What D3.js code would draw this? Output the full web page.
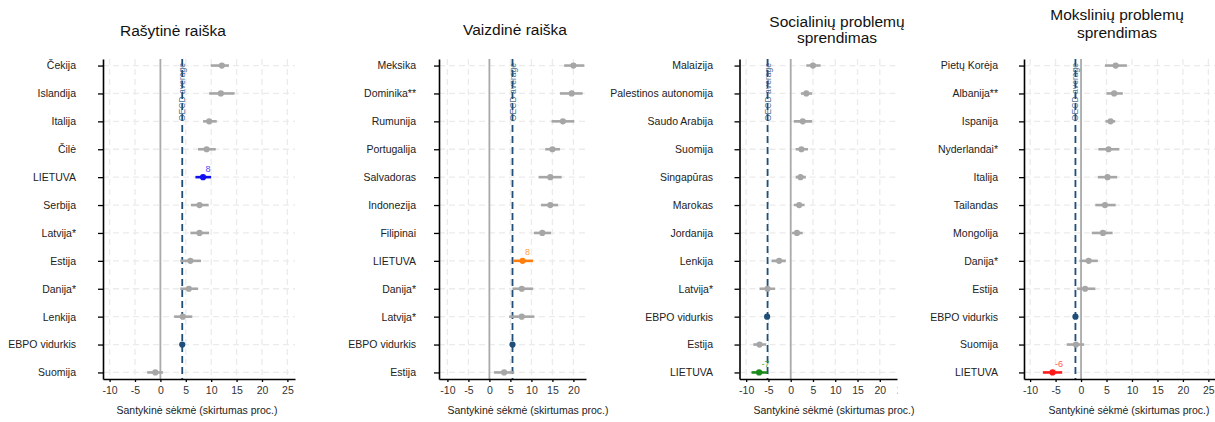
<!DOCTYPE html>
<html><head><meta charset="utf-8">
<script src="https://cdn.jsdelivr.net/npm/d3@7"></script>
<style>
body{margin:0;background:#fff}
svg{display:block}
text{font-family:"Liberation Sans",Arial,Helvetica,sans-serif}
</style>
</head><body>
<svg id="c" width="1215" height="422"></svg>
<script>
// ---------- DATA ----------
const writingTitle = ["Rašytinė raiška"];
const writingCountries = ["Čekija","Islandija","Italija","Čilė","LIETUVA","Serbija","Latvija*","Estija","Danija*","Lenkija","EBPO vidurkis","Suomija"];
const writingEst  = [12.1, 11.9, 9.6, 9.1, 8.4, 7.7, 7.7, 5.9, 5.6, 4.4, 4.3, -1.0];
const writingLow  = [ 9.9,  9.6, 8.4, 7.4, 6.9, 6.0, 5.9, 3.9, 3.9, 2.7, 4.1, -2.6];
const writingHigh = [13.5, 14.6,11.1,10.9,10.0, 9.5, 9.6, 8.0, 7.4, 6.3, 4.5,  0.5];
const writingOecd = 4.3;
const writingTicks = [-10,-5,0,5,10,15,20,25];

const visualTitle = ["Vaizdinė raiška"];
const visualCountries = ["Meksika","Dominika**","Rumunija","Portugalija","Salvadoras","Indonezija","Filipinai","LIETUVA","Danija*","Latvija*","EBPO vidurkis","Estija"];
const visualEst  = [20.0, 19.6, 17.5, 15.0, 14.5, 14.5, 12.6, 7.9, 7.7, 7.7, 5.5, 3.5];
const visualLow  = [17.8, 16.8, 14.8, 13.3, 11.7, 12.3, 10.6, 5.6, 5.5, 4.7, 5.3, 1.1];
const visualHigh = [22.6, 22.2, 20.2, 16.8, 17.2, 16.4, 14.7,10.4,10.4,10.7, 5.7, 5.9];
const visualOecd = 5.5;
const visualTicks = [-10,-5,0,5,10,15,20];

const socialTitle = ["Socialinių problemų","sprendimas"];
const socialCountries = ["Malaizija","Palestinos autonomija","Saudo Arabija","Suomija","Singapūras","Marokas","Jordanija","Lenkija","Latvija*","EBPO vidurkis","Estija","LIETUVA"];
const socialEst  = [5.0, 3.5, 2.7, 2.4, 2.2, 1.9, 1.4, -2.6, -5.2, -5.3, -7.0, -7.1];
const socialLow  = [3.5, 2.3, 0.7, 1.1, 1.1, 0.7, 0.3, -4.3, -7.0, -5.5, -8.4, -8.8];
const socialHigh = [6.7, 4.8, 4.8, 3.9, 3.4, 3.1, 2.7, -1.1, -3.5, -5.1, -5.5, -5.2];
const socialOecd = -5.2;
const socialTicks = [-10,-5,0,5,10,15,20,25];

const scienceTitle = ["Mokslinių problemų","sprendimas"];
const scienceCountries = ["Pietų Korėja","Albanija**","Ispanija","Nyderlandai*","Italija","Tailandas","Mongolija","Danija*","Estija","EBPO vidurkis","Suomija","LIETUVA"];
const scienceEst  = [6.8, 6.5, 5.8, 5.4, 5.2, 4.7, 4.3, 1.5, 0.8, -1.1, -1.0, -5.6];
const scienceLow  = [4.7, 5.0, 4.8, 3.4, 3.3, 2.8, 2.1, -0.3, -0.8, -1.3, -2.8, -7.5];
const scienceHigh = [9.0, 8.2, 6.7, 7.5, 7.1, 6.8, 6.2, 3.3, 2.8, -0.9, 0.6, -3.7];
const scienceOecd = -1.1;
const scienceTicks = [-10,-5,0,5,10,15,20,25];

const highlightName = "LIETUVA";
const averageName = "EBPO vidurkis";
const oecdLabel = "OECD average";
const xAxisTitle = "Santykinė sėkmė (skirtumas proc.)";

// ---------- LAYOUT / STYLE ----------
const panels = [
  {title: writingTitle, cats: writingCountries, est: writingEst, lo: writingLow, hi: writingHigh, oecd: writingOecd, ticks: writingTicks,
   domain: [-11.3, 26.5], left: 103, right: 295, labelEnd: 76, titleX: 173, titleY: [36], axisTitleX: 197,
   hl: "#1010ee", hlText: "#4a4aff", clip: null},
  {title: visualTitle, cats: visualCountries, est: visualEst, lo: visualLow, hi: visualHigh, oecd: visualOecd, ticks: visualTicks,
   domain: [-12.0, 23.0], left: 439, right: 586, labelEnd: 416, titleX: 515, titleY: [35], axisTitleX: 528,
   hl: "#ff7f0e", hlText: "#ffa040", clip: null},
  {title: socialTitle, cats: socialCountries, est: socialEst, lo: socialLow, hi: socialHigh, oecd: socialOecd, ticks: socialTicks,
   domain: [-11.5, 26.0], left: 739.5, right: 906.5, labelEnd: 713, titleX: 837, titleY: [26.5, 43], axisTitleX: 834,
   hl: "#1a8a1a", hlText: "#33aa33", clip: [600, 897.5]},
  {title: scienceTitle, cats: scienceCountries, est: scienceEst, lo: scienceLow, hi: scienceHigh, oecd: scienceOecd, ticks: scienceTicks,
   domain: [-11.2, 26.3], left: 1024, right: 1215, labelEnd: 998, titleX: 1117, titleY: [20, 37.5], axisTitleX: 1129,
   hl: "#ff1a1a", hlText: "#ff5555", clip: null}
];

const plotTop = 59, plotBottom = 379;
const grey = "#a6a6a6";
const oecdColor = "#1f4e79";
const fmt = d => String(d);

const svg = d3.select("#c");
const defs = svg.append("defs");

panels.forEach((p, pi) => {
  const outer = svg.append("g");
  const g = outer.append("g");
  if (p.clip) {
    defs.append("clipPath").attr("id", "clip" + pi).append("rect")
      .attr("x", p.clip[0]).attr("y", 0).attr("width", p.clip[1] - p.clip[0]).attr("height", 400);
    g.attr("clip-path", `url(#clip${pi})`);
  }
  const x = d3.scaleLinear().domain(p.domain).range([p.left, p.right]);
  const y = d3.scalePoint().domain(p.cats).range([plotTop, plotBottom]).padding(0.235);

  // title
  const t = outer.append("text").attr("x", p.titleX).attr("text-anchor", "middle")
    .attr("font-size", 15.5).attr("fill", "#111");
  p.title.forEach((line, i) => {
    t.append("tspan").attr("x", p.titleX).attr("y", p.titleY[i]).text(line);
  });

  // grid
  const grid = g.append("g");
  grid.selectAll("line.v").data(p.ticks).join("line").attr("class", "v")
    .attr("x1", d => x(d)).attr("x2", d => x(d)).attr("y1", plotTop).attr("y2", plotBottom)
    .attr("stroke", "#ebebeb").attr("stroke-width", 1.3).attr("stroke-dasharray", "6,4");
  grid.selectAll("line.h").data(p.cats).join("line").attr("class", "h")
    .attr("x1", p.left).attr("x2", p.right).attr("y1", d => y(d)).attr("y2", d => y(d))
    .attr("stroke", "#ebebeb").attr("stroke-width", 1.3).attr("stroke-dasharray", "6,4");

  // zero line
  g.append("line").attr("x1", x(0)).attr("x2", x(0)).attr("y1", plotTop).attr("y2", plotBottom)
    .attr("stroke", "#aaaaaa").attr("stroke-width", 1.8);

  // OECD average line
  g.append("line").attr("x1", x(p.oecd)).attr("x2", x(p.oecd)).attr("y1", plotTop).attr("y2", plotBottom)
    .attr("stroke", oecdColor).attr("stroke-width", 1.8).attr("stroke-dasharray", "7,4");

  const rows = p.cats.map((c, i) => ({c, est: p.est[i], lo: p.lo[i], hi: p.hi[i]}));
  const colorOf = d => d.c === highlightName ? p.hl : (d.c === averageName ? oecdColor : grey);

  // error bars
  g.selectAll("line.err").data(rows.filter(d => d.c !== averageName)).join("line").attr("class", "err")
    .attr("x1", d => x(d.lo)).attr("x2", d => x(d.hi)).attr("y1", d => y(d.c)).attr("y2", d => y(d.c))
    .attr("stroke", colorOf).attr("stroke-width", 2.6);
  // points
  g.selectAll("circle.pt").data(rows).join("circle").attr("class", "pt")
    .attr("cx", d => x(d.est)).attr("cy", d => y(d.c)).attr("r", 3.1)
    .attr("fill", colorOf);
  // value label
  g.selectAll("text.val").data(rows.filter(d => d.c === highlightName)).join("text").attr("class", "val")
    .attr("x", d => x(d.est) + 2.5).attr("y", d => y(d.c) - 5.5)
    .attr("font-size", 9).attr("fill", p.hlText)
    .text(d => fmt(Math.round(d.est)));

  // OECD average text
  const ty = 92;
  g.append("text").attr("transform", `translate(${x(p.oecd)},${ty}) rotate(-90)`)
    .attr("text-anchor", "middle").attr("dominant-baseline", "central")
    .attr("font-size", 8.6).attr("fill", oecdColor).attr("fill-opacity", 0.85)
    .text(oecdLabel);

  // x axis
  const xa = g.append("g").attr("transform", `translate(0,${plotBottom})`)
    .call(d3.axisBottom(x).tickValues(p.ticks).tickSize(3).tickSizeOuter(0).tickPadding(5).tickFormat(fmt));
  xa.select(".domain").attr("stroke", "#000").attr("stroke-width", 1.6);
  xa.selectAll(".tick line").attr("stroke", "#000").attr("stroke-width", 1.3);
  xa.selectAll(".tick text").attr("font-size", 10.5).attr("fill", "#333");

  // y axis
  const pad = p.left - p.labelEnd - 5;
  const ya = outer.append("g").attr("transform", `translate(${p.left},0)`)
    .call(d3.axisLeft(y).tickSize(5).tickSizeOuter(0).tickPadding(pad));
  ya.select(".domain").attr("stroke", "#000").attr("stroke-width", 1.6);
  ya.selectAll(".tick line").attr("stroke", "#000").attr("stroke-width", 1.3);
  ya.selectAll(".tick text").attr("font-size", 10.5).attr("fill", "#222");

  // x axis title
  outer.append("text").attr("x", p.axisTitleX).attr("y", 414).attr("text-anchor", "middle")
    .attr("font-size", 10.5).attr("fill", "#222").text(xAxisTitle);
});
</script>
</body></html>
